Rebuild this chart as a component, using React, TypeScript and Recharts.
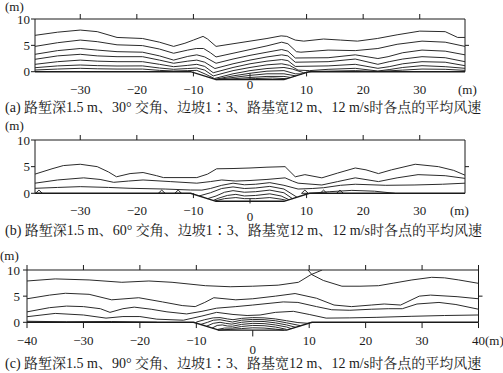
import React from 'react';
import { LineChart, Line, XAxis, YAxis, ReferenceLine } from 'recharts';

type P = [number, number];

// ---------- Panel (a): 30° ----------
const a1: P[] = [[-38,6.9],[-34,7.5],[-30,7.9],[-27,7.6],[-23.5,6.5],[-19,6.3],[-16,5.6],[-13.5,4.8],[-11.5,5.4],[-10,6.0],[-8.3,6.7],[-7.5,6.2],[-6,4.8],[-3,5.3],[0,5.8],[3,6.3],[5.5,6.8],[6.5,6.7],[8,6.0],[9.5,5.8],[13,6.2],[16,6.0],[19,5.8],[22.5,6.3],[26,7.0],[30,7.7],[34.5,7.6],[36.7,6.5],[38,6.5]];
const a2: P[] = [[-38,4.8],[-34,5.5],[-30,6.0],[-27,5.7],[-23.5,5.1],[-19,4.95],[-16,4.3],[-13.5,3.5],[-11,4.1],[-9.5,4.4],[-8.2,4.4],[-7,3.6],[-6,2.8],[-3,3.5],[0,4.2],[3,4.9],[5.6,5.6],[6.7,5.3],[8.2,3.8],[9,3.7],[13.8,4.1],[18.6,4.0],[22.6,4.4],[26,5.2],[30.4,5.8],[34.5,5.6],[38,4.8]];
const a3: P[] = [[-38,3.3],[-34,4.0],[-30,4.4],[-27,4.1],[-23.5,3.8],[-19,3.7],[-16,3.0],[-13.5,2.2],[-11,2.9],[-9.4,3.2],[-8,2.8],[-6,1.6],[-3,2.4],[0,3.1],[3,3.7],[5.6,4.2],[6.7,3.9],[8,2.6],[13.8,2.65],[18.6,3.2],[22.6,2.5],[24.4,2.85],[27,3.6],[30.4,4.1],[34.5,3.9],[38,3.2]];
const a4: P[] = [[-38,2.35],[-34,3.0],[-30,3.3],[-27,3.0],[-23.5,2.85],[-19,2.85],[-16,2.2],[-13.5,1.6],[-11,2.0],[-9.4,2.2],[-8,1.8],[-6.2,0.6],[-3,1.5],[0,2.2],[3,2.8],[5.6,3.2],[6.7,3.0],[8,1.8],[13.8,1.9],[18.6,2.4],[22.6,1.4],[24.6,1.9],[27,2.4],[30.4,2.85],[34.5,2.65],[38,1.9]];
const a5: P[] = [[-38,1.4],[-34,1.9],[-30,2.2],[-27,2.0],[-23.5,1.9],[-19,1.9],[-16,1.4],[-13.5,0.95],[-11,1.2],[-9.4,1.4],[-8,1.0],[-6.5,-0.2],[-3,0.8],[0,1.5],[3,2.0],[5.6,2.3],[6.7,2.1],[8,1.0],[13.8,1.1],[18.6,1.4],[22.6,0.64],[24.6,0.95],[27,1.5],[30.4,1.9],[34.5,1.8],[38,1.14]];
const a6: P[] = [[-38,0.76],[-34,1.1],[-30,1.27],[-27,1.15],[-23.5,1.08],[-19,1.1],[-16,0.7],[-13.5,0.45],[-11,0.6],[-9.4,0.7],[-8,0.3],[-6.5,-0.8],[-3,0.2],[0,0.8],[3,1.3],[5.6,1.5],[7,1.2],[8.5,0.3],[10.5,0.2],[13.8,0.45],[18.6,0.64],[22.6,0.13],[24.6,0.4],[27,0.8],[30.4,1.14],[34.5,0.95],[38,0.64]];
const a7: P[] = [[-38,0.32],[-34,0.5],[-30,0.64],[-27,0.55],[-23.5,0.5],[-19,0.5],[-16,0.25],[-13.5,0.13],[-11,0.2],[-9.4,0.25],[-7.8,-0.5],[-6.3,-1.3],[-3,-0.4],[0,0.2],[3,0.6],[6,0.8],[7.5,0.5],[9.5,-0.2],[11,0.05],[18.6,0.2],[22.6,0.05],[27,0.3],[30.4,0.5],[34.5,0.45],[38,0.25]];
const aT1: P[] = [[-6.2,-1.45],[-3,-0.8],[0,-0.3],[3,0.1],[6,0.2],[8,-0.4],[9.2,-0.43]];
const aT2: P[] = [[-6.1,-1.5],[-3,-1.1],[0,-0.7],[3,-0.4],[6,-0.4],[8.1,-0.8]];
const aT3: P[] = [[-6,-1.5],[-3,-1.35],[0,-1.1],[3,-0.9],[6,-0.9],[7.2,-1.1]];
const aT4: P[] = [[-6,-1.5],[-2,-1.45],[1,-1.3],[4,-1.2],[6.5,-1.33]];
const groundA: P[] = [[-38,0],[-10.5,0],[-6,-1.5],[6,-1.5],[10.5,0],[38,0]];

// ---------- Panel (b): 60° ----------
const b1: P[] = [[-38,3.6],[-35,4.6],[-33,5.2],[-30,5.45],[-27,5.0],[-25,4.0],[-23.6,3.1],[-21.2,3.7],[-18.9,3.9],[-16.5,3.3],[-15.3,2.95],[-9.4,2.95],[-7.5,3.6],[-5.9,4.6],[-3,4.65],[0,4.75],[3,4.9],[6.2,5.0],[8,3.1],[9.7,3.5],[12.7,2.9],[15.5,3.8],[18.6,4.75],[20.5,4.4],[22.7,3.7],[25,4.4],[29.2,5.45],[33.3,5.0],[36,4.3],[38,3.4]];
const b2: P[] = [[-38,1.9],[-34,2.5],[-29.4,2.9],[-26.5,2.6],[-24.1,2.06],[-21.5,2.3],[-18.9,2.5],[-14.1,2.2],[-9.4,1.9],[-7,2.2],[-5,2.5],[-2.5,2.3],[0,2.4],[3,2.6],[6.2,2.9],[7.5,2.3],[8.5,1.9],[12.7,1.56],[15.5,2.2],[18.6,2.9],[22.7,2.2],[26,2.9],[29.7,3.5],[34.5,3.3],[38,2.8]];
const b3: P[] = [[-38,0.94],[-34,1.1],[-30,1.25],[-25,1.1],[-21.2,0.94],[-15,0.8],[-10.5,0.62],[-8.5,0.6],[-7,0.9],[-5,1.5],[-3,1.9],[-1,1.6],[1,1.7],[3.5,2.0],[6,1.5],[8.5,0.8],[11,0.9],[13,1.05],[16,1.5],[18.6,1.7],[24,1.5],[29,1.56],[34,1.7],[38,1.9]];
const b4: P[] = [[10.5,0],[14,0.3],[18,0.55],[22,0.4],[25.6,0]];
const bT1: P[] = [[-9,-0.5],[-7,0.1],[-5,0.9],[-3,1.2],[-1,0.9],[1,1.0],[3.5,1.3],[6,0.8],[8.3,-0.73]];
const bT2: P[] = [[-7.5,-1.0],[-6,-0.5],[-4.5,0.2],[-3,0.5],[-1,0.2],[1,0.3],[3.5,0.6],[6,0.1],[7.5,-1.0]];
const bT3: P[] = [[-6.5,-1.33],[-5.5,-0.9],[-4,-0.4],[-2.5,-0.2],[-1,-0.5],[1,-0.4],[3.5,-0.1],[5.5,-0.5],[6.9,-1.2]];
const bT4: P[] = [[-6.2,-1.43],[-4.5,-1.0],[-2.5,-0.8],[-1,-1.0],[1,-1.0],[3.5,-0.8],[5.5,-1.1],[6.5,-1.33]];
const bTriangleCenters: number[] = [-37.3, -15.6, -12.7, 9.7, 13, 15.9];
const groundB: P[] = [[-38,0],[-10.5,0],[-6,-1.5],[6,-1.5],[10.5,0],[38,0]];

// ---------- Panel (c): 90° ----------
const c1a: P[] = [[-40,7.9],[-35,8.3],[-29,8.1],[-23.2,7.65],[-18.4,7.9],[-14.3,7.65],[-8.4,7.0],[-4,6.8],[0,6.9],[4.5,7.1],[8.1,7.65],[10.3,9.1],[12.3,10]];
const c1b: P[] = [[9.8,10],[10.5,9.1],[12.5,8.0],[15.8,6.9],[19,6.9],[22.3,7.0],[25,7.5],[28.2,8.1],[31.7,8.6],[34,8.5],[36.5,8.1],[40,7.45]];
const c2: P[] = [[-40,4.5],[-36,5.2],[-33.2,5.55],[-29,5.35],[-25,4.3],[-20.2,4.7],[-16,3.9],[-12.5,3.2],[-10.2,3.0],[-8.5,3.8],[-6.9,4.7],[-3,4.3],[0,4.5],[4,5.0],[7.5,5.5],[11.3,4.6],[14.4,3.3],[17.5,3.0],[21,3.3],[23.3,3.5],[26.2,3.3],[29.5,5.0],[31.5,5.2],[36.2,4.9],[40,4.5]];
const c3: P[] = [[-40,2.0],[-36,2.8],[-33,3.1],[-30,3.0],[-27,2.6],[-25.3,1.9],[-23,2.6],[-21,2.9],[-18,2.5],[-15.2,2.0],[-11.7,1.6],[-9,2.1],[-6.4,2.7],[-3,3.0],[0,3.3],[5.4,3.9],[8,3.8],[11.3,3.0],[14,2.4],[17.2,2.3],[21,2.5],[24,2.6],[26.5,2.6],[29.1,3.5],[33,3.8],[36,3.4],[40,2.5]];
const c4: P[] = [[-40,1.07],[-35,1.7],[-30,1.4],[-26,0.8],[-23,1.1],[-20,1.1],[-17,0.6],[-12.3,0.4],[-9,1.2],[-6.4,1.9],[-3.5,1.5],[-1,1.3],[1.3,1.4],[4,1.9],[7.2,2.1],[10,1.5],[13,0.8],[17.2,0.85],[22,0.95],[28.2,1.15],[34,1.3],[40,1.4]];
const c5: P[] = [[-40,0.2],[-33,0.1],[-25,0.15],[-17,0]];
const cT1: P[] = [[-10,0.05],[-8.5,0.5],[-7,0.85],[-5.8,0.9],[-4.5,0.65],[-3.5,0.5],[-2,0.75],[0,0.9],[2,0.85],[4,0.65],[6,0.3],[8,-0.05],[9.9,-0.2]];
const cT2: P[] = [[-9.2,-0.4],[-8,0.0],[-7,0.4],[-5.8,0.5],[-4.6,0.25],[-3.6,0.05],[-2,0.4],[0,0.55],[2,0.5],[4,0.3],[6,-0.1],[8.5,-0.65]];
const cT3: P[] = [[-8.2,-0.75],[-7,-0.2],[-5.8,0.0],[-4.8,-0.2],[-3.7,-0.35],[-2,0.0],[0,0.2],[2,0.15],[4,-0.1],[6,-0.5],[7.6,-0.95]];
const cT4: P[] = [[-7.2,-1.1],[-6.3,-0.6],[-5.4,-0.5],[-4.5,-0.7],[-3.6,-0.75],[-2,-0.4],[0,-0.2],[2,-0.25],[4,-0.5],[6,-0.9],[6.8,-1.2]];
const cT5: P[] = [[-6.4,-1.4],[-5,-1.1],[-3.6,-1.1],[-2,-0.8],[0,-0.6],[2,-0.65],[4,-0.9],[6,-1.35]];
const cT6: P[] = [[-6.2,-1.5],[-4,-1.35],[-2,-1.2],[0,-1.05],[2,-1.1],[4,-1.3],[5.5,-1.5]];
const groundC: P[] = [[-40,0],[-10.5,0],[-6,-1.5],[6,-1.5],[10.5,0],[40,0]];

// ---------- ticks & labels ----------
const yTicks = [0, 5, 10];
const topTicksAB = [-30, -20, -10, 10, 20, 30];
const bottomTicksAB = [-30, -20, -10, 0, 10, 20, 30];
const topTicksC = [-40, -30, -20, -10, 10, 20, 30, 40];
const bottomTicksC = [-40, -30, -20, -10, 0, 10, 20, 30, 40];
const captionA = '(a) 路堑深1.5 m、30° 交角、边坡1∶3、路基宽12 m、12 m/s时各点的平均风速';
const captionB = '(b) 路堑深1.5 m、60° 交角、边坡1∶3、路基宽12 m、12 m/s时各点的平均风速';
const captionC = '(c) 路堑深1.5 m、90° 交角、边坡1∶3、路基宽12 m、12 m/s时各点的平均风速';

const SERIF = "'Liberation Serif', 'Times New Roman', serif";
const CAPTION_FONT = "'Liberation Serif', 'Noto Serif CJK SC', 'Noto Sans CJK SC', serif";
const INK = '#1a1a1a';

const toPts = (a: P[]) => a.map(([x, y]) => ({ x, y }));
const triangle = (cx: number): P[] => [[cx - 0.6, 0], [cx, 0.6], [cx + 0.6, 0], [cx - 0.6, 0]];
const fmt = (v: number) => (v < 0 ? '\u2212' + Math.abs(v) : String(v));

const BOTTOM_H = 10;
const TOP_H = 5;
const RIGHT_W = 5;

function makeBottomTick(baseDy: number, zeroDy: number) {
  return (props: any) => {
    const { x, y, payload } = props;
    const v = payload.value as number;
    return (
      <text x={x} y={y + (v === 0 ? zeroDy : baseDy)} textAnchor="middle" fontFamily={SERIF} fontSize={13} fill={INK}>
        {fmt(v)}
      </text>
    );
  };
}

interface PanelProps {
  top: number;
  height: number;
  plotTop: number;
  plotBottom: number;
  plotLeft: number;
  plotRight: number;
  yTickMargin: number;
  xMin: number;
  xMax: number;
  contours: P[][];
  ground: P[];
  topTicks: number[];
  bottomTicks: number[];
  tickMarks: [P, P][];
  baseDy: number;
  zeroDy: number;
}

function Panel(p: PanelProps) {
  const margin = {
    top: p.plotTop - TOP_H,
    bottom: p.height - p.plotBottom - BOTTOM_H,
    left: 0,
    right: 503 - p.plotRight - RIGHT_W,
  };
  const seg = (a: P, b: P, key: string) => (
    <ReferenceLine key={key} segment={[{ x: a[0], y: a[1] }, { x: b[0], y: b[1] }]} stroke={INK} strokeWidth={1} ifOverflow="visible" />
  );
  return (
    <div style={{ position: 'absolute', left: 0, top: p.top }}>
      <LineChart width={503} height={p.height} margin={margin}>
        <XAxis xAxisId={0} type="number" dataKey="x" domain={[p.xMin, p.xMax]} ticks={p.bottomTicks} interval={0} allowDataOverflow height={BOTTOM_H} axisLine={false} tickLine={false} tickSize={0} tickMargin={0} tick={makeBottomTick(p.baseDy, p.zeroDy)} />
        <XAxis xAxisId="top" orientation="top" type="number" dataKey="x" domain={[p.xMin, p.xMax]} ticks={p.topTicks} interval={0} allowDataOverflow height={TOP_H} axisLine={false} tickSize={5} tickLine={{ stroke: INK }} tickFormatter={() => ''} />
        <YAxis yAxisId={0} type="number" domain={[-3, 10]} ticks={yTicks} interval={0} allowDataOverflow width={p.plotLeft} axisLine={false} tickSize={4} tickMargin={p.yTickMargin} tickLine={{ stroke: INK }} tick={{ fontSize: 13, fill: INK, fontFamily: SERIF }} />
        <YAxis yAxisId="r" orientation="right" type="number" domain={[-3, 10]} ticks={[5]} interval={0} allowDataOverflow width={RIGHT_W} axisLine={false} tickSize={4} tickLine={{ stroke: INK }} tickFormatter={() => ''} />
        {seg([p.xMin, 0], [p.xMin, 10], 'l')}
        {seg([p.xMin, 10], [p.xMax, 10], 't')}
        {seg([p.xMax, 0], [p.xMax, 10], 'r')}
        {p.tickMarks.map((t, i) => seg(t[0], t[1], 'tm' + i))}
        {p.contours.map((c, i) => (
          <Line key={i} data={toPts(c)} dataKey="y" type="linear" stroke="#2b2b2b" strokeWidth={1} dot={false} activeDot={false} isAnimationActive={false} />
        ))}
        <Line data={toPts(p.ground)} dataKey="y" type="linear" stroke={INK} strokeWidth={1.4} dot={false} activeDot={false} isAnimationActive={false} />
      </LineChart>
    </div>
  );
}

const textStyle = (left: number, top: number, size: number, font: string): React.CSSProperties => ({
  position: 'absolute', left, top, fontSize: size, lineHeight: '16px', fontFamily: font, color: INK, whiteSpace: 'nowrap',
});

export default function App() {
  return (
    <div style={{ position: 'absolute', left: 0, top: 0, width: 503, height: 373, background: '#fff', overflow: 'hidden' }}>
      <Panel
        top={0} height={100} plotTop={19} plotBottom={87.5} plotLeft={35} plotRight={465}
        yTickMargin={1} xMin={-38} xMax={38}
        contours={[a1, a2, a3, a4, a5, a6, a7, aT1, aT2, aT3, aT4]}
        ground={groundA} topTicks={topTicksAB} bottomTicks={bottomTicksAB}
        tickMarks={[[[-10, 0], [-10, -0.9]], [[10, 0], [10, -0.9]], [[0, -1.5], [0, -0.3]]]}
        baseDy={6.8} zeroDy={1}
      />
      <Panel
        top={120} height={110} plotTop={20} plotBottom={89.3} plotLeft={35} plotRight={465}
        yTickMargin={1} xMin={-38} xMax={38}
        contours={[b1, b2, b3, b4, bT1, bT2, bT3, bT4, ...bTriangleCenters.map(triangle)]}
        ground={groundB} topTicks={topTicksAB} bottomTicks={bottomTicksAB}
        tickMarks={[[[-10, 0], [-10, -0.9]], [[10, 0], [10, -0.9]], [[0, -1.0], [0, -1.9]]]}
        baseDy={6} zeroDy={11.5}
      />
      <Panel
        top={250} height={110} plotTop={20} plotBottom={88} plotLeft={27} plotRight={478.5}
        yTickMargin={3} xMin={-40} xMax={40}
        contours={[c1a, c1b, c2, c3, c4, c5, cT1, cT2, cT3, cT4, cT5, cT6]}
        ground={groundC} topTicks={topTicksC} bottomTicks={bottomTicksC}
        tickMarks={[...bottomTicksC.filter((v) => v !== 0).map((v) => [[v, 0], [v, -1.1]] as [P, P]), [[0, -1.5], [0, -2.7]] as [P, P]]}
        baseDy={7.3} zeroDy={16.3}
      />
      <div style={textStyle(5, -1, 13, SERIF)}>(m)</div>
      <div style={textStyle(458, 82, 13, SERIF)}>(m)</div>
      <div style={textStyle(5, 118, 13, SERIF)}>(m)</div>
      <div style={textStyle(450, 203, 13, SERIF)}>(m)</div>
      <div style={textStyle(0, 248, 13, SERIF)}>(m)</div>
      <div style={textStyle(485, 333, 13, SERIF)}>(m)</div>
      <div style={textStyle(5, 100, 14, CAPTION_FONT)}>{captionA}</div>
      <div style={textStyle(5, 223, 14, CAPTION_FONT)}>{captionB}</div>
      <div style={textStyle(5, 356, 14, CAPTION_FONT)}>{captionC}</div>
    </div>
  );
}
